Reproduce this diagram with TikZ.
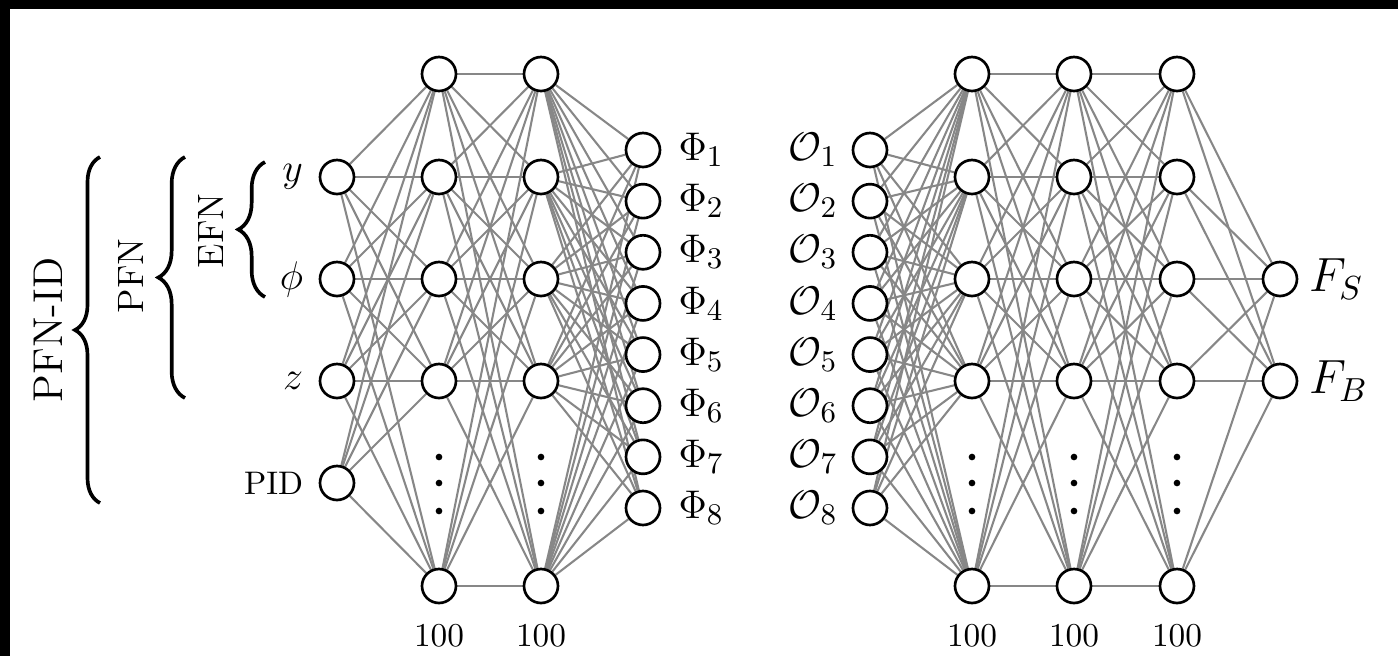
\documentclass[tikz,border=0pt]{standalone}
\usetikzlibrary{decorations.pathreplacing}
\pgfdeclarelayer{paper}
\pgfdeclarelayer{edges}
\pgfsetlayers{paper,edges,main}
\begin{document}
\begin{tikzpicture}[x=0.3pt,y=-0.3pt,
  neuron/.style={circle,draw=black,line width=0.8pt,fill=white,minimum size=10.2pt,inner sep=0pt},
  wire/.style={draw=black!47,line width=0.62pt},
  bracestyle/.style={decorate,decoration={brace,amplitude=8pt},line width=1.1pt},
  sym/.style={font=\fontsize{13}{15}\selectfont,inner sep=0pt},
  outsym/.style={font=\fontsize{14.5}{17}\selectfont,inner sep=0pt},
  width/.style={font=\fontsize{10}{12}\selectfont,inner sep=0pt},
  group/.style={rotate=90,inner sep=0pt}]

% page with dark strips on top and left
\begin{pgfonlayer}{paper}
  \fill[white] (0,0) rectangle (1398,656);
  \fill[black] (0,0) rectangle (1398,9);
  \fill[black] (0,0) rectangle (10,656);
\end{pgfonlayer}
\useasboundingbox (0,0) rectangle (1398,656);

% input features
\foreach \n/\y in {1/177,2/279,3/381,4/483}
  \node[neuron] (in\n) at (337,\y) {};

% hidden layers (five drawn units each)
\foreach \c/\x in {a/439,b/541,c/972,d/1074,e/1177}
  \foreach \n/\y in {1/74,2/177,3/279,4/381,5/586}
    \node[neuron] (\c\n) at (\x,\y) {};

% latent outputs Phi and latent inputs O
\foreach \n in {1,...,8} {
  \node[neuron] (p\n) at (643,{150+51.14*(\n-1)}) {};
  \node[neuron] (o\n) at (870,{150+51.14*(\n-1)}) {};
}

% classifier outputs
\node[neuron] (fs) at (1280,279) {};
\node[neuron] (fb) at (1280,381) {};

% connections
\begin{pgfonlayer}{edges}
  \foreach \i in {1,...,4}
    \foreach \j in {1,...,5}
      \draw[wire] (in\i) -- (a\j);
  \foreach \i in {1,...,5}
    \foreach \j in {1,...,5} {
      \draw[wire] (a\i) -- (b\j);
      \draw[wire] (c\i) -- (d\j);
      \draw[wire] (d\i) -- (e\j);
    }
  \foreach \i in {1,...,5}
    \foreach \j in {1,...,8} {
      \draw[wire] (b\i) -- (p\j);
      \draw[wire] (o\j) -- (c\i);
    }
  \foreach \i in {1,...,5} {
    \draw[wire] (e\i) -- (fs);
    \draw[wire] (e\i) -- (fb);
  }
\end{pgfonlayer}

% omitted units
\foreach \x in {439,541,972,1074,1177}
  \foreach \y in {457,483,511}
    \fill[black] (\x,\y) circle (1pt);

% labels of the inputs
\node[sym,anchor=east] (ly) at ([xshift=-4.5pt]in1.west) {$y$};
\node[sym,anchor=east] (lphi) at ([xshift=-4.5pt]in2.west) {$\phi$};
\node[sym,anchor=east] (lz) at ([xshift=-4.5pt]in3.west) {$z$};
\node[font=\fontsize{9.8}{11}\selectfont,inner sep=0pt,anchor=east] (lpid) at ([xshift=-4.5pt]in4.west) {PID};

% labels of the latent space
\foreach \n in {1,...,8} {
  \node[sym,anchor=west] (lp\n) at ([xshift=5pt]p\n.east) {$\Phi_{\n}$};
  \node[sym,anchor=east] (lo\n) at ([xshift=-4pt]o\n.west) {$\mathcal{O}_{\n}$};
}

% labels of the outputs
\node[outsym,anchor=west] (lfs) at ([xshift=3pt]fs.east) {$F_S$};
\node[outsym,anchor=west] (lfb) at ([xshift=3pt]fb.east) {$F_B$};

% layer widths
\foreach \c/\x in {a/439,b/541,c/972,d/1074,e/1177}
  \node[width] (w\c) at (\x,636) {100};

% model groupings
\draw[bracestyle] (265,297) -- (265,162);
\draw[bracestyle] (185,398) -- (185,157);
\draw[bracestyle,decoration={amplitude=7.5pt}] (100,503) -- (100,157);
\node[group,font=\fontsize{11}{13}\selectfont] (efn) at (211,231) {EFN};
\node[group,font=\fontsize{11}{13}\selectfont] (pfn) at (131,276) {PFN};
\node[group,font=\fontsize{12.5}{15}\selectfont] (pfnid) at (48,330) {PFN-ID};
\end{tikzpicture}
\end{document}
